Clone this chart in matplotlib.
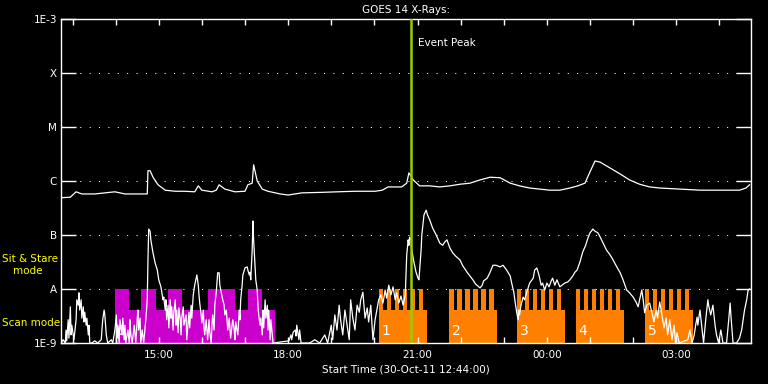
import numpy as np
import matplotlib
matplotlib.use('Agg')
import matplotlib.pyplot as plt
from matplotlib.ticker import FixedLocator, NullLocator, FixedFormatter

# ---------------- data (time: minutes since 30-Oct-11 12:44:00, flux: log10 W/m^2) -------------
long_t = [0, 13, 21, 29, 47, 61, 75, 89, 103, 120, 121, 124, 128, 135, 145, 159, 172, 186, 191, 196,
          210, 216, 220, 228, 242, 256, 260, 266, 268, 273, 280, 288, 305, 316, 335, 363, 385, 409,
          437, 447, 455, 474, 481, 484, 487, 490, 499, 513, 527, 541, 555, 569, 583, 597, 611, 625,
          638, 652, 666, 680, 694, 708, 719, 729, 736, 743, 750, 764, 778, 791, 805, 819, 833, 861,
          889, 917, 944, 953, 958]
long_log = [-6.31, -6.30, -6.20, -6.24, -6.24, -6.22, -6.20, -6.24, -6.24, -6.24, -5.81, -5.81, -5.93,
            -6.07, -6.17, -6.19, -6.19, -6.20, -6.09, -6.17, -6.20, -6.17, -6.07, -6.15, -6.20, -6.19,
            -6.07, -6.04, -5.70, -6.00, -6.15, -6.19, -6.24, -6.26, -6.22, -6.21, -6.20, -6.19, -6.19,
            -6.17, -6.11, -6.11, -6.04, -5.85, -5.91, -5.98, -6.09, -6.09, -6.11, -6.09, -6.06, -6.04,
            -5.98, -5.93, -5.94, -6.04, -6.09, -6.13, -6.15, -6.17, -6.17, -6.13, -6.09, -6.04, -5.83,
            -5.63, -5.65, -5.76, -5.87, -5.98, -6.06, -6.11, -6.13, -6.15, -6.17, -6.17, -6.17, -6.13,
            -6.07]

short_t = [0, 3, 6, 7, 8, 10, 11, 13, 14, 15, 18, 21, 22, 24, 25, 26, 28, 29, 31, 32, 33, 35, 36, 38,
           39, 40, 43, 47, 51, 56, 58, 60, 61, 63, 65, 70, 72, 75, 77, 78, 79, 81, 82, 85, 86, 88, 89,
           90, 93, 95, 96, 97, 99, 102, 104, 106, 107, 108, 110, 111, 113, 115, 118, 120, 121, 122,
           124, 125, 128, 131, 134, 136, 139, 142, 143, 145, 146, 147, 149, 150, 152, 153, 154, 156,
           157, 159, 160, 161, 163, 164, 166, 167, 168, 170, 171, 174, 175, 177, 178, 179, 181, 182,
           184, 186, 189, 191, 192, 193, 195, 196, 198, 199, 200, 202, 203, 204, 206, 207, 209, 210,
           211, 213, 214, 216, 217, 218, 220, 221, 223, 225, 227, 228, 230, 231, 232, 234, 236, 238,
           239, 241, 242, 243, 246, 248, 249, 250, 252, 253, 256, 259, 260, 262, 263, 264, 266, 267,
           268, 270, 271, 273, 274, 275, 277, 278, 280, 281, 282, 284, 285, 287, 288, 289, 291, 292,
           294, 295, 317, 320, 321, 323, 326, 327, 328, 331, 332, 334, 346, 353, 360, 367, 371, 376,
           378, 381, 384, 387, 389, 392, 395, 398, 401, 403, 406, 409, 412, 415, 417, 420, 423, 426,
           428, 431, 434, 437, 440, 442, 445, 448, 451, 453, 456, 459, 462, 465, 467, 470, 473, 476,
           479, 481, 483, 484, 485, 487, 488, 491, 494, 497, 498, 499, 501, 502, 504, 505, 508, 510,
           513, 517, 522, 527, 531, 534, 537, 541, 545, 549, 555, 559, 565, 569, 573, 577, 583, 586,
           588, 593, 597, 601, 605, 611, 615, 620, 625, 627, 630, 632, 634, 636, 637, 638, 640, 643,
           645, 648, 652, 657, 659, 662, 665, 668, 670, 673, 676, 679, 682, 684, 687, 690, 694, 697,
           701, 705, 708, 712, 715, 718, 722, 726, 730, 733, 736, 739, 740, 743, 747, 751, 755, 759,
           764, 768, 772, 778, 782, 787, 791, 796, 800, 803, 805, 808, 810, 812, 815, 819, 822, 825,
           828, 830, 833, 836, 839, 842, 844, 847, 850, 853, 855, 857, 860, 872, 875, 878, 881, 883,
           885, 886, 889, 892, 894, 897, 900, 901, 904, 907, 910, 912, 915, 918, 921, 926, 929, 931,
           932, 935, 940, 944, 947, 949, 951, 954, 956, 958]
short_log = [-9.00, -8.94, -9.00, -8.76, -8.96, -8.57, -8.91, -8.33, -8.85, -8.67, -8.94, -8.57, -8.20,
             -8.30, -8.07, -8.39, -8.20, -8.54, -8.33, -8.61, -8.43, -8.67, -8.54, -8.85, -8.67, -9.00,
             -9.00, -8.96, -9.00, -8.94, -8.57, -8.39, -8.48, -8.85, -9.00, -8.94, -9.00, -8.76, -8.48,
             -8.91, -8.67, -9.00, -8.57, -8.85, -8.54, -8.94, -8.67, -9.00, -8.76, -9.00, -8.57, -8.83,
             -9.00, -8.67, -9.00, -8.57, -8.39, -8.76, -8.54, -9.00, -8.76, -9.00, -8.57, -8.20, -7.46,
             -6.89, -6.93, -7.09, -7.33, -7.52, -7.65, -7.83, -7.96, -8.20, -8.15, -8.39, -8.20, -8.57,
             -8.30, -8.72, -8.20, -8.54, -8.33, -8.76, -8.43, -8.20, -8.67, -8.39, -8.81, -8.35, -8.57,
             -8.85, -8.54, -8.33, -8.67, -8.48, -8.94, -8.61, -8.43, -8.72, -8.30, -8.54, -8.11, -7.93,
             -7.74, -7.93, -8.11, -8.26, -8.48, -8.63, -8.39, -8.72, -8.85, -8.57, -8.76, -8.94, -8.57,
             -8.80, -9.00, -8.67, -8.48, -8.76, -8.30, -8.06, -7.89, -7.70, -7.70, -7.93, -8.06, -8.20,
             -8.30, -8.48, -8.39, -8.57, -8.76, -8.54, -8.91, -8.67, -8.57, -8.76, -8.94, -8.61, -8.85,
             -8.39, -8.57, -8.20, -7.93, -7.74, -7.61, -7.59, -7.65, -7.74, -7.69, -7.83, -7.28, -6.74,
             -7.09, -7.56, -7.83, -8.02, -8.30, -8.48, -8.67, -8.54, -8.85, -8.39, -8.72, -8.20, -8.54,
             -8.30, -8.76, -8.39, -8.94, -8.57, -8.85, -9.00, -8.96, -8.85, -8.94, -8.80, -8.76, -8.87,
             -8.67, -8.94, -8.76, -9.00, -9.00, -8.94, -9.00, -8.85, -9.00, -8.67, -8.94, -8.48, -8.76,
             -8.30, -8.57, -8.85, -8.39, -8.67, -8.94, -8.20, -8.54, -8.76, -8.30, -8.43, -8.20, -8.06,
             -8.54, -8.35, -8.61, -8.30, -8.94, -8.57, -8.35, -8.20, -8.11, -8.26, -8.02, -8.17, -7.93,
             -8.11, -7.96, -8.20, -8.07, -8.26, -8.13, -8.30, -8.11, -7.37, -7.09, -7.19, -7.04, -7.09,
             -7.28, -7.50, -7.69, -7.81, -7.83, -7.65, -7.28, -7.00, -6.76, -6.63, -6.54, -6.63, -6.72,
             -6.87, -7.00, -7.15, -7.19, -7.13, -7.09, -7.24, -7.33, -7.39, -7.46, -7.57, -7.69, -7.76,
             -7.83, -7.91, -7.98, -7.93, -7.85, -7.80, -7.69, -7.56, -7.56, -7.59, -7.56, -7.65, -7.76,
             -7.89, -8.06, -8.26, -8.43, -8.57, -8.39, -8.48, -8.30, -8.15, -8.20, -8.06, -7.89, -7.80,
             -7.65, -7.61, -7.74, -7.93, -7.89, -8.02, -7.89, -7.96, -7.85, -7.80, -7.93, -7.83, -7.96,
             -7.93, -7.89, -7.87, -7.83, -7.76, -7.69, -7.65, -7.50, -7.31, -7.19, -7.06, -6.96, -6.91,
             -6.89, -6.93, -6.96, -7.06, -7.17, -7.28, -7.37, -7.46, -7.56, -7.70, -7.83, -8.02, -8.07,
             -8.15, -8.24, -8.33, -8.20, -8.02, -8.20, -8.44, -8.30, -8.26, -8.43, -8.61, -8.39, -8.54,
             -8.24, -8.48, -8.72, -8.54, -8.85, -8.57, -8.94, -8.67, -9.00, -8.81, -9.00, -8.94, -8.76,
             -9.00, -8.85, -8.67, -8.52, -8.67, -8.39, -8.76, -9.00, -8.57, -8.20, -8.30, -8.48, -8.30,
             -8.67, -8.85, -9.00, -8.76, -9.00, -9.00, -8.57, -8.26, -8.48, -9.00, -9.00, -8.91, -8.76,
             -8.57, -8.39, -8.20, -8.02, -8.00]

# GOES class levels
level_vals = [1e-9, 1e-8, 1e-7, 1e-6, 1e-5, 1e-4, 1e-3]
level_names = ['1E-9', 'A', 'B', 'C', 'M', 'X', '1E-3']

# time axis
xtick_minutes = [136, 316, 496, 676, 856]
xtick_labels = ['15:00', '18:00', '21:00', '00:00', '03:00']
hour_minutes = [16, 76, 136, 196, 256, 316, 376, 436, 496, 556, 616, 676, 736, 796, 856, 916]

event_peak = 487

# instrument modes (heights: log10 flux)
scan_level = -8.39
stare_level = -8.0
sit_base = (75, 298)
sit_tall_start = [75, 111, 149, 204, 260]
sit_tall_end = [95, 132, 168, 242, 280]
scan_start = [442, 540, 634, 716, 812]
scan_width = 67
scan_labels = ['1', '2', '3', '4', '5']
tooth_offsets = [0, 11.1, 22.2, 33.3, 44.4, 55.5]
tooth_width = 6.3

# ---------------- plot ----------------
W, H = 768, 384
fig = plt.figure(figsize=(W / 100, H / 100), dpi=100, facecolor='black')
ax = fig.add_axes([61 / W, 41 / H, 690 / W, 324 / H])
ax.set_facecolor('black')
ax.set_yscale('log')
ax.set_xlim(0, 960)
ax.set_ylim(1e-9, 1e-3)

FONT = 'DejaVu Sans'
fs = 7.5
MAG = '#cc00cc'
ORA = '#ff8000'

# Sit & Stare (magenta)
ax.bar(sit_base[0], 10 ** scan_level - 1e-9, width=sit_base[1] - sit_base[0], bottom=1e-9,
       align='edge', color=MAG, linewidth=0, zorder=1)
for s, e in zip(sit_tall_start, sit_tall_end):
    ax.bar(s, 10 ** stare_level - 1e-9, width=e - s, bottom=1e-9, align='edge',
           color=MAG, linewidth=0, zorder=1)
ax.text(sit_base[0] + 3, 10 ** -8.9, '6', color='white', fontsize=10, family=FONT,
        ha='left', va='bottom', zorder=2)

# Scan mode (orange)
for s, lab in zip(scan_start, scan_labels):
    ax.bar(s, 10 ** scan_level - 1e-9, width=scan_width, bottom=1e-9, align='edge',
           color=ORA, linewidth=0, zorder=1)
    for off in tooth_offsets:
        ax.bar(s + off, 10 ** stare_level - 1e-9, width=tooth_width, bottom=1e-9,
               align='edge', color=ORA, linewidth=0, zorder=1)
    ax.text(s + 4, 10 ** -8.9, lab, color='white', fontsize=10, family=FONT,
            ha='left', va='bottom', zorder=2)

# grid dotted lines
for v in level_vals[1:-1]:
    ax.axhline(v, color='white', lw=0.75, linestyle=(0, (1, 8)), zorder=0.5)

# curves
ax.plot(long_t, 10 ** np.array(long_log), color='white', lw=0.9, zorder=3)
ax.plot(short_t, 10 ** np.array(short_log), color='white', lw=0.9, zorder=3)

# event peak
ax.axvline(event_peak, color='#9acd00', lw=1.8, zorder=4)
ax.text(event_peak + 10, 10 ** -3.44, 'Event Peak', color='white', fontsize=fs, family=FONT,
        ha='left', va='center')

# axes styling
for sp in ax.spines.values():
    sp.set_color('white')
    sp.set_linewidth(1.0)

ax.yaxis.set_major_locator(FixedLocator(level_vals))
ax.yaxis.set_major_formatter(FixedFormatter(level_names))
ax.yaxis.set_minor_locator(NullLocator())
ax.xaxis.set_major_locator(FixedLocator(xtick_minutes))
ax.xaxis.set_major_formatter(FixedFormatter(xtick_labels))
ax.xaxis.set_minor_locator(FixedLocator(hour_minutes))

ax.tick_params(axis='y', which='major', direction='in', length=11, width=1.0,
               left=True, right=True, colors='white', labelsize=fs, pad=3)
ax.tick_params(axis='x', which='both', direction='in', length=4, width=1.0,
               top=True, bottom=True, colors='white', labelsize=fs, pad=5)
for lab in ax.get_xticklabels() + ax.get_yticklabels():
    lab.set_family(FONT)

ax.set_xlabel('Start Time (30-Oct-11 12:44:00)', color='white', fontsize=fs, family=FONT,
              labelpad=3)
ax.set_title('GOES 14 X-Rays:', color='white', fontsize=fs, family=FONT, pad=4)

fig.text(2 / W, 1 - 259 / H, 'Sit & Stare', color='yellow', fontsize=fs, family=FONT,
         ha='left', va='center')
fig.text(13 / W, 1 - 271 / H, 'mode', color='yellow', fontsize=fs, family=FONT,
         ha='left', va='center')
fig.text(2 / W, 1 - 323 / H, 'Scan mode', color='yellow', fontsize=fs, family=FONT,
         ha='left', va='center')

fig.savefig('out.png', dpi=100, facecolor='black')
